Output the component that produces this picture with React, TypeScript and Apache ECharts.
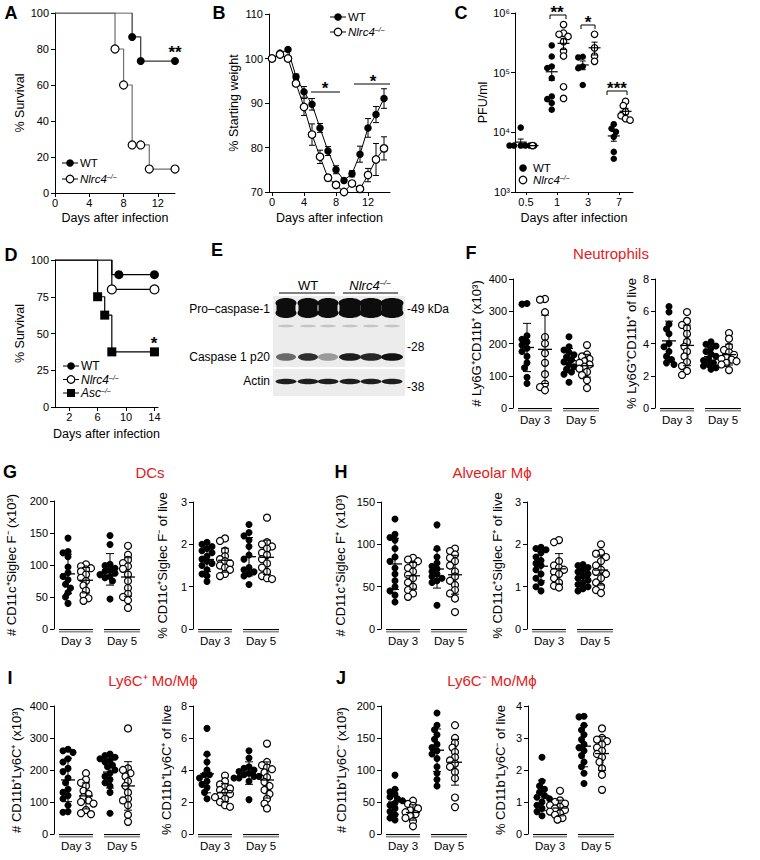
import React, { useEffect, useRef } from "react";
import * as echarts from "echarts";

const FONT = "'Liberation Sans', Arial, Helvetica, sans-serif";
const RED = "#e3201b";

// ===== Panel A: survival =====
const aTicks = [0, 4, 8, 12];
const aWTDays = [0, 9, 10, 14];
const aWTSurv = [100, 86.7, 73.3, 73.3];
const aKODays = [0, 7, 8, 9, 10, 11, 14];
const aKOSurv = [100, 80, 60, 26.7, 26.7, 13.3, 13.3];

// ===== Panel B: weight =====
const bTicks = [0, 4, 8, 12];
const bDays = [0, 1, 2, 3, 4, 5, 6, 7, 8, 9, 10, 11, 12, 13, 14];
const bWT = [100, 101.2, 102.0, 95.9, 92.5, 89.7, 84.4, 79.2, 75.0, 72.6, 74.1, 78.5, 84.4, 87.4, 91.0];
const bWTSem = [0, 0.3, 0.3, 0.6, 1.2, 1.3, 1.0, 1.0, 0.9, 0.5, 0.7, 1.8, 2.1, 1.8, 2.2];
const bKO = [100, 100.9, 100, 94.4, 89.1, 82.9, 77.9, 73.2, 71.6, 70.0, 71.9, 70.7, 73.8, 77.3, 79.8];
const bKOSem = [0, 0.3, 0.3, 0.5, 1.9, 2.4, 1.5, 0.7, 0.6, 0.3, 0.6, 0.5, 1.5, 3.6, 2.6];

// ===== Panel C: PFU =====
const cDayLabels = ["0.5", "1", "3", "7"];
const cTickLabels = ["10³", "10⁴", "10⁵", "10⁶"];
const cWT = [
  [6000, 6000, 6000, 6000, 6000, 6000, 12000],
  [286000, 187000, 127000, 120000, 81000, 40000, 36000, 31000, 24000],
  [185000, 180000, 127000, 119000, 62000],
  [13700, 11600, 10200, 8400, 4700, 3600],
];
const cKO = [
  [6000],
  [640000, 460000, 440000, 405000, 330000, 230000, 190000, 58000, 37000],
  [440000, 260000, 190000, 155000],
  [33000, 28000, 22000, 19000, 17000, 16000],
];

// ===== Panel D: survival =====
const dTicks = [2, 6, 10, 14];
const dWTDays = [0, 8, 14];
const dWTSurv = [100, 90, 90];
const dWTMarkDays = [9, 14];
const dWTMarkSurv = [90, 90];
const dKODays = [0, 8, 14];
const dKOSurv = [100, 80, 80];
const dAscDays = [0, 6, 7, 8, 14];
const dAscSurv = [100, 75, 62.5, 37.5, 37.5];

// ===== Panel E: blot band shades per lane =====
const blotLanes = ["WT", "WT", "WT", "Nlrc4", "Nlrc4", "Nlrc4"];
const blotP20Shade = ["#6a6a6a", "#2e2e2e", "#9a9a9a", "#1c1c1c", "#262626", "#111111"];

// ===== Panels F–J: groups are [WT day3, Nlrc4 day3, WT day5, Nlrc4 day5] =====
const dayGroups = ["Day 3", "Day 5"];
const neutCount = [
  [324, 322, 224, 213, 205, 195, 185, 175, 160, 140, 125, 95, 76],
  [338, 336, 297, 220, 200, 170, 140, 105, 75, 65, 55],
  [221, 190, 180, 172, 165, 158, 150, 143, 135, 128, 120, 112, 105, 80],
  [195, 166, 160, 152, 145, 140, 135, 128, 122, 112, 102, 86, 62],
];
const neutPct = [
  [6.3, 5.95, 5.2, 4.9, 4.6, 4.0, 3.8, 3.5, 3.2, 3.0, 2.8, 2.7],
  [5.95, 5.4, 5.15, 4.95, 4.6, 4.1, 3.8, 3.5, 3.2, 2.85, 2.6, 2.3, 2.05],
  [4.1, 3.95, 3.85, 3.7, 3.5, 3.35, 3.2, 3.05, 2.95, 2.8, 2.7, 2.6, 2.5, 2.4],
  [4.65, 4.3, 3.8, 3.6, 3.45, 3.3, 3.15, 3.05, 3.0, 2.9, 2.8, 2.7, 2.35],
];
const dcCount = [
  [142, 121, 119, 113, 97, 88, 82, 77, 70, 64, 57, 50, 40],
  [101, 98, 95, 93, 90, 85, 80, 75, 68, 60, 53, 48, 44],
  [146, 132, 101, 99, 95, 92, 90, 87, 85, 82, 80, 75, 47],
  [130, 116, 108, 103, 98, 94, 85, 75, 64, 55, 50, 45, 33],
];
const dcPct = [
  [2.05, 2.0, 1.95, 1.9, 1.85, 1.8, 1.72, 1.65, 1.6, 1.55, 1.5, 1.4, 1.3, 1.25, 1.12],
  [2.14, 2.08, 1.85, 1.72, 1.65, 1.6, 1.55, 1.5, 1.45, 1.4, 1.3, 1.25],
  [2.47, 2.28, 2.2, 2.1, 1.95, 1.75, 1.65, 1.45, 1.4, 1.35, 1.3, 1.25, 1.05],
  [2.63, 2.05, 2.0, 1.95, 1.9, 1.8, 1.75, 1.65, 1.55, 1.45, 1.35, 1.25, 1.2, 1.18],
];
const amCount = [
  [130, 112, 108, 105, 95, 85, 80, 72, 65, 57, 50, 45, 40, 32],
  [84, 82, 80, 76, 72, 68, 64, 60, 55, 50, 46, 42, 38],
  [123, 95, 85, 78, 74, 71, 68, 65, 62, 60, 57, 55, 28],
  [95, 92, 88, 84, 80, 75, 68, 62, 57, 52, 46, 42, 36, 20],
];
const amPct = [
  [1.93, 1.9, 1.87, 1.8, 1.7, 1.62, 1.55, 1.5, 1.4, 1.3, 1.2, 1.1, 1.0, 0.9],
  [2.1, 2.05, 1.6, 1.5, 1.45, 1.4, 1.35, 1.3, 1.2, 1.1, 1.02, 0.98],
  [1.52, 1.5, 1.45, 1.4, 1.35, 1.3, 1.25, 1.2, 1.15, 1.1, 1.05, 1.0, 0.95, 0.9],
  [2.0, 1.8, 1.78, 1.7, 1.6, 1.5, 1.4, 1.35, 1.3, 1.2, 1.1, 1.0, 0.92, 0.85],
];
const ly6cHiCount = [
  [265, 260, 255, 235, 225, 205, 195, 175, 160, 140, 130, 120, 110, 90, 70, 68],
  [190, 170, 160, 150, 135, 125, 115, 105, 100, 95, 75, 65, 62],
  [250, 245, 240, 235, 230, 225, 215, 210, 200, 190, 180, 170, 160, 150, 130, 65],
  [330, 205, 200, 190, 180, 165, 150, 130, 110, 105, 90, 60, 38],
];
const ly6cHiPct = [
  [6.6, 5.0, 4.5, 4.0, 3.7, 3.7, 3.5, 3.3, 3.1, 2.9, 2.6, 2.2],
  [3.65, 3.3, 3.1, 2.95, 2.85, 2.75, 2.6, 2.5, 2.4, 2.3, 2.2, 2.0, 1.8, 1.7],
  [5.2, 4.75, 4.2, 4.1, 4.0, 3.9, 3.8, 3.7, 3.6, 3.6, 3.5, 3.5, 3.3, 2.15],
  [5.65, 4.5, 4.3, 4.15, 4.05, 3.85, 3.55, 3.25, 3.0, 2.75, 2.5, 2.2, 1.9, 1.6],
];
const ly6cLoCount = [
  [92, 70, 66, 62, 58, 55, 52, 48, 45, 40, 35, 30, 25, 22],
  [52, 47, 44, 40, 37, 34, 31, 28, 25, 20, 12],
  [189, 170, 163, 155, 148, 140, 135, 130, 125, 118, 105, 95, 85, 75],
  [170, 150, 142, 135, 128, 120, 115, 110, 105, 97, 87, 57, 42],
];
const ly6cLoPct = [
  [2.4, 1.65, 1.5, 1.4, 1.3, 1.2, 1.15, 1.1, 1.0, 0.9, 0.8, 0.7, 0.57],
  [1.35, 1.05, 1.0, 0.95, 0.9, 0.85, 0.8, 0.75, 0.7, 0.65, 0.6, 0.5, 0.45],
  [3.68, 3.66, 3.4, 3.25, 3.1, 2.95, 2.8, 2.7, 2.6, 2.45, 2.25, 2.1, 1.9, 1.58],
  [3.3, 3.0, 2.95, 2.9, 2.8, 2.7, 2.6, 2.5, 2.4, 2.25, 2.05, 1.85, 1.38],
];

// ---------- helpers ----------
const FILLED = { color: "#000", opacity: 1 };
const OPEN = { color: "#fff", borderColor: "#000", borderWidth: 1.2, opacity: 1 };

function mean(a: number[]) {
  return a.reduce((s, v) => s + v, 0) / a.length;
}
function sd(a: number[]) {
  if (a.length < 2) return 0;
  const m = mean(a);
  return Math.sqrt(a.reduce((s, v) => s + (v - m) * (v - m), 0) / (a.length - 1));
}

// simple beeswarm layout: returns [x, value] pairs
function swarm(vals: number[], cx: number, yPx: (v: number) => number, unitsPerPx: number, d: number) {
  const order = vals.map((_, i) => i).sort((a, b) => vals[b] - vals[a]);
  const placed: { x: number; y: number; v: number }[] = [];
  const cxp = cx / unitsPerPx;
  const step = d / 2;
  for (const i of order) {
    const y = yPx(vals[i]);
    let x = cxp;
    for (let k = 0; k < 30; k++) {
      const off = k === 0 ? 0 : (k % 2 === 1 ? -1 : 1) * Math.ceil(k / 2) * step;
      x = cxp + off;
      if (placed.every((p) => (p.x - x) * (p.x - x) + (p.y - y) * (p.y - y) >= d * d)) break;
    }
    placed.push({ x, y, v: vals[i] });
  }
  return placed.map((p) => [p.x * unitsPerPx, p.v]);
}

const errRender = (hw: number, cw: number, meanW: number) => (_p: any, api: any) => {
  const x = api.value(0);
  const m = api.value(1);
  const lo = api.value(2);
  const hi = api.value(3);
  const pm = api.coord([x, m]);
  const pl = api.coord([x, lo]);
  const ph = api.coord([x, hi]);
  const st = { stroke: "#000", lineWidth: 1 };
  const ch: any[] = [
    { type: "line", shape: { x1: pl[0], y1: pl[1], x2: ph[0], y2: ph[1] }, style: st },
    { type: "line", shape: { x1: pl[0] - cw, y1: pl[1], x2: pl[0] + cw, y2: pl[1] }, style: st },
    { type: "line", shape: { x1: ph[0] - cw, y1: ph[1], x2: ph[0] + cw, y2: ph[1] }, style: st },
  ];
  if (hw > 0)
    ch.push({ type: "line", shape: { x1: pm[0] - hw, y1: pm[1], x2: pm[0] + hw, y2: pm[1] }, style: { stroke: "#000", lineWidth: meanW } });
  return { type: "group", children: ch };
};

const underlineRender = (_p: any, api: any) => {
  const a = api.coord([api.value(0), 0]);
  const b = api.coord([api.value(2), 0]);
  return {
    type: "group",
    children: [
      { type: "line", shape: { x1: a[0], y1: a[1] + 0.5, x2: b[0], y2: b[1] + 0.5 }, style: { stroke: "#000", lineWidth: 1 } },
      { type: "line", shape: { x1: a[0], y1: a[1] + 2.6, x2: b[0], y2: b[1] + 2.6 }, style: { stroke: "#8c8c8c", lineWidth: 1.6 } },
    ],
  };
};

function txt(x: number, y: number, text: string, opts: any = {}) {
  return {
    type: "text",
    x,
    y,
    silent: true,
    style: { text, fontFamily: FONT, fontSize: 12, fill: "#000", align: "left", verticalAlign: "middle", ...opts },
  };
}

function genoRich(fs: number) {
  return {
    i: { fontStyle: "italic", fontSize: fs, fontFamily: FONT, fill: "#000", lineHeight: fs },
    s: { fontStyle: "italic", fontSize: Math.round(fs * 0.62), fontFamily: FONT, fill: "#000", verticalAlign: "top", lineHeight: Math.round(fs * 0.62) },
  };
}

function legendRow(x: number, y: number, kind: string, label: string, italic: boolean, fs: number, withLine: boolean) {
  const out: any[] = [];
  if (withLine) out.push({ type: "line", silent: true, shape: { x1: x - 8, y1: y, x2: x + 8, y2: y }, style: { stroke: "#000", lineWidth: 1 } });
  if (kind === "square") out.push({ type: "rect", silent: true, shape: { x: x - 4, y: y - 4, width: 8, height: 8 }, style: { fill: "#000" } });
  else
    out.push({
      type: "circle",
      silent: true,
      shape: { cx: x, cy: y, r: 3.8 },
      style: kind === "filled" ? { fill: "#000" } : { fill: "#fff", stroke: "#000", lineWidth: 1.2 },
    });
  if (italic) out.push(txt(x + 10, y, `{i|${label}}{s|–/–}`, { rich: genoRich(fs) }));
  else out.push(txt(x + 10, y, label, { fontSize: fs }));
  return out;
}

const scatterLayout = [
  { data: neutCount, name: "# Ly6G⁺CD11b⁺ (x10³)", left: 513, top: 279, height: 129, max: 400, interval: 100, gap: 30 },
  { data: neutPct, name: "% Ly6G⁺CD11b⁺ of live", left: 655, top: 279, height: 129, max: 8, interval: 2, gap: 17 },
  { data: dcCount, name: "# CD11c⁺Siglec F⁻ (x10³)", left: 54, top: 501, height: 128, max: 200, interval: 50, gap: 36 },
  { data: dcPct, name: "% CD11c⁺Siglec F⁻ of live", left: 193, top: 502, height: 127, max: 3, interval: 1, gap: 24 },
  { data: amCount, name: "# CD11c⁺Siglec F⁺ (x10³)", left: 381, top: 502, height: 127, max: 150, interval: 50, gap: 34 },
  { data: amPct, name: "% CD11c⁺Siglec F⁺ of live", left: 527, top: 502, height: 127, max: 3, interval: 1, gap: 23 },
  { data: ly6cHiCount, name: "# CD11b⁺Ly6C⁺ (x10³)", left: 54, top: 706, height: 128, max: 400, interval: 100, gap: 31 },
  { data: ly6cHiPct, name: "% CD11b⁺Ly6C⁺ of live", left: 193, top: 706, height: 128, max: 8, interval: 2, gap: 20 },
  { data: ly6cLoCount, name: "# CD11b⁺Ly6C⁻ (x10³)", left: 381, top: 706, height: 128, max: 200, interval: 50, gap: 33 },
  { data: ly6cLoPct, name: "% CD11b⁺Ly6C⁻ of live", left: 528, top: 706, height: 128, max: 4, interval: 1, gap: 21 },
];
const GROUP_X = [14, 32, 56, 74];
const UNDERLINES = [[5, 0, 39], [50, 0, 86]];
const DAY_LABEL_X = [22, 68];

function buildOption() {
  const grid: any[] = [];
  const xAxis: any[] = [];
  const yAxis: any[] = [];
  const series: any[] = [];
  const graphic: any[] = [];

  const axisLine = { show: true, onZero: false, lineStyle: { color: "#000", width: 1 } };
  const tick = { show: true, length: 4, lineStyle: { color: "#000", width: 1 } };
  const lbl = { color: "#000", fontSize: 11, fontFamily: FONT };
  const nameStyle = { color: "#000", fontSize: 12.5, fontFamily: FONT };
  const add = (g: any, x: any, y: any) => {
    const i = grid.length;
    grid.push({ ...g, containLabel: false });
    xAxis.push({ gridIndex: i, splitLine: { show: false }, ...x });
    yAxis.push({ gridIndex: i, splitLine: { show: false }, ...y });
    return i;
  };
  const pts = (xs: number[], ys: number[]) => xs.map((d, i) => [d, ys[i]]);

  // ---------- A ----------
  const gA = add(
    { left: 55, top: 13, width: 120, height: 180 },
    {
      type: "value", min: 0, max: 14, axisLine,
      axisTick: { ...tick, customValues: aTicks },
      axisLabel: { ...lbl, margin: 4, customValues: aTicks },
      name: "Days after infection", nameLocation: "middle", nameGap: 18, nameTextStyle: nameStyle,
    },
    {
      type: "value", min: 0, max: 100, interval: 20, axisLine, axisTick: tick,
      axisLabel: { ...lbl, margin: 6 },
      name: "% Survival", nameLocation: "middle", nameGap: 26, nameTextStyle: nameStyle,
    }
  );
  series.push({ type: "line", xAxisIndex: gA, yAxisIndex: gA, step: "end", data: pts(aKODays, aKOSurv), showSymbol: false, lineStyle: { color: "#6e6e6e", width: 1.2 }, z: 2, silent: true });
  series.push({ type: "line", xAxisIndex: gA, yAxisIndex: gA, step: "end", data: pts(aWTDays, aWTSurv), showSymbol: false, lineStyle: { color: "#333", width: 1.2 }, z: 2, silent: true });
  series.push({ type: "scatter", xAxisIndex: gA, yAxisIndex: gA, data: pts(aKODays, aKOSurv).slice(1), symbolSize: 8, itemStyle: OPEN, z: 4, silent: true, clip: false });
  series.push({ type: "scatter", xAxisIndex: gA, yAxisIndex: gA, data: pts(aWTDays, aWTSurv).slice(1), symbolSize: 8, itemStyle: FILLED, z: 4, silent: true, clip: false });

  // ---------- B ----------
  const gB = add(
    { left: 269, top: 14, width: 121, height: 178 },
    {
      type: "value", min: -0.375, max: 14.75, axisLine,
      axisTick: { ...tick, customValues: bTicks },
      axisLabel: { ...lbl, margin: 4, customValues: bTicks },
      name: "Days after infection", nameLocation: "middle", nameGap: 19, nameTextStyle: nameStyle,
    },
    {
      type: "value", min: 70, max: 110, interval: 10, axisLine, axisTick: tick,
      axisLabel: { ...lbl, margin: 6 },
      name: "% Starting weight", nameLocation: "middle", nameGap: 29, nameTextStyle: nameStyle,
    }
  );
  series.push({
    type: "custom", xAxisIndex: gB, yAxisIndex: gB, renderItem: errRender(0, 3, 1), silent: true, z: 1,
    data: bDays.map((d, i) => [d, bWT[i], bWT[i] - bWTSem[i], bWT[i] + bWTSem[i]]), encode: { x: 0, y: [1, 2, 3] },
  });
  series.push({
    type: "custom", xAxisIndex: gB, yAxisIndex: gB, renderItem: errRender(0, 3, 1), silent: true, z: 1,
    data: bDays.map((d, i) => [d, bKO[i], bKO[i] - bKOSem[i], bKO[i] + bKOSem[i]]), encode: { x: 0, y: [1, 2, 3] },
  });
  series.push({ type: "line", xAxisIndex: gB, yAxisIndex: gB, data: pts(bDays, bWT), symbol: "circle", symbolSize: 7.5, itemStyle: FILLED, lineStyle: { color: "#000", width: 1 }, z: 3, silent: true, clip: false });
  series.push({ type: "line", xAxisIndex: gB, yAxisIndex: gB, data: pts(bDays, bKO), symbol: "circle", symbolSize: 7.5, itemStyle: OPEN, lineStyle: { color: "#000", width: 1 }, z: 4, silent: true, clip: false });

  // ---------- C ----------
  const cCats = [0, 1, 2, 3];
  const gC = add(
    { left: 515, top: 13, width: 118, height: 179 },
    {
      type: "value", min: -0.355, max: 3.45, axisLine,
      axisTick: { ...tick, length: 3, customValues: cCats },
      axisLabel: { ...lbl, margin: 4, customValues: cCats, formatter: (v: number) => cDayLabels[Math.round(v)] },
      name: "Days after infection", nameLocation: "middle", nameGap: 19, nameTextStyle: nameStyle,
    },
    {
      type: "log", logBase: 10, min: 1000, max: 1000000, axisLine, axisTick: tick,
      axisLabel: { ...lbl, margin: 5, formatter: (v: number) => cTickLabels[Math.round(Math.log10(v)) - 3] },
      name: "PFU/ml", nameLocation: "middle", nameGap: 24, nameTextStyle: nameStyle,
    }
  );
  const cYpx = (v: number) => Math.log10(v) * (179 / 3);
  const cErr: number[][] = [];
  [cWT, cKO].forEach((groups, gi) => {
    const pointsAll: number[][] = [];
    groups.forEach((vals, ci) => {
      const cx = ci + (gi === 0 ? -0.17 : 0.21);
      swarm(vals, cx, cYpx, 1 / 31, 4.5).forEach((p) => pointsAll.push(p));
      const m = mean(vals);
      const sem = sd(vals) / Math.sqrt(vals.length);
      cErr.push([cx, m, Math.max(m - sem, 1001), m + sem]);
    });
    series.push({ type: "scatter", xAxisIndex: gC, yAxisIndex: gC, data: pointsAll, symbolSize: 6.5, itemStyle: gi === 0 ? FILLED : OPEN, z: 3, silent: true, clip: false });
  });
  series.push({ type: "custom", xAxisIndex: gC, yAxisIndex: gC, renderItem: errRender(6, 3, 1.2), silent: true, z: 5, data: cErr, encode: { x: 0, y: [1, 2, 3] } });

  // ---------- D ----------
  const gD = add(
    { left: 55, top: 260, width: 103, height: 147 },
    {
      type: "value", min: 0, max: 14.5, axisLine,
      axisTick: { ...tick, customValues: dTicks },
      axisLabel: { ...lbl, margin: 4, customValues: dTicks },
      name: "Days after infection", nameLocation: "middle", nameGap: 20, nameTextStyle: nameStyle,
    },
    {
      type: "value", min: 0, max: 100, interval: 25, axisLine, axisTick: tick,
      axisLabel: { ...lbl, margin: 6 },
      name: "% Survival", nameLocation: "middle", nameGap: 26, nameTextStyle: nameStyle,
    }
  );
  const km = (xs: number[], ys: number[]) => ({ type: "line", xAxisIndex: gD, yAxisIndex: gD, step: "end", data: pts(xs, ys), showSymbol: false, lineStyle: { color: "#000", width: 1.2 }, z: 2, silent: true });
  series.push(km(dWTDays, dWTSurv), km(dKODays, dKOSurv), km(dAscDays, dAscSurv));
  series.push({ type: "scatter", xAxisIndex: gD, yAxisIndex: gD, data: pts(dWTMarkDays, dWTMarkSurv), symbolSize: 9, itemStyle: FILLED, z: 4, silent: true, clip: false });
  series.push({ type: "scatter", xAxisIndex: gD, yAxisIndex: gD, data: pts(dKODays, dKOSurv).slice(1), symbolSize: 9, itemStyle: OPEN, z: 4, silent: true, clip: false });
  series.push({ type: "scatter", xAxisIndex: gD, yAxisIndex: gD, data: pts(dAscDays, dAscSurv).slice(1), symbol: "rect", symbolSize: 9, itemStyle: FILLED, z: 4, silent: true, clip: false });

  // ---------- F–J scatter panels ----------
  scatterLayout.forEach((p) => {
    const gi = add(
      { left: p.left, top: p.top, width: 88, height: p.height },
      {
        type: "value", min: 0, max: 88,
        axisLine: { show: false, onZero: false }, axisTick: { show: false },
        axisLabel: { ...lbl, fontSize: 11.5, margin: 6, customValues: DAY_LABEL_X, formatter: (v: number) => dayGroups[v < 45 ? 0 : 1] },
      },
      {
        type: "value", min: 0, max: p.max, interval: p.interval, axisLine, axisTick: tick,
        axisLabel: { ...lbl, margin: 6 },
        name: p.name, nameLocation: "middle", nameGap: p.gap, nameTextStyle: { ...nameStyle, fontSize: 13 },
      }
    );
    const yPx = (v: number) => (v * p.height) / p.max;
    const errs: number[][] = [];
    p.data.forEach((vals, g) => {
      series.push({
        type: "scatter", xAxisIndex: gi, yAxisIndex: gi, data: swarm(vals, GROUP_X[g], yPx, 1, 5),
        symbolSize: 7, itemStyle: g % 2 === 0 ? FILLED : OPEN, z: 3, silent: true, clip: false,
      });
      const m = mean(vals);
      const s = sd(vals);
      errs.push([GROUP_X[g], m, Math.max(m - s, 0), m + s]);
    });
    series.push({ type: "custom", xAxisIndex: gi, yAxisIndex: gi, renderItem: errRender(7, 4, 1.3), silent: true, z: 5, data: errs, encode: { x: 0, y: [1, 2, 3] } });
    series.push({ type: "custom", xAxisIndex: gi, yAxisIndex: gi, renderItem: underlineRender, silent: true, z: 1, data: UNDERLINES, encode: { x: [0, 2], y: 1 } });
  });

  // ---------- graphic: letters, titles, legends, annotations ----------
  const letters: [string, number, number][] = [
    ["A", 11, 13], ["B", 219, 13], ["C", 461, 13], ["D", 11, 255], ["E", 217, 250],
    ["F", 471, 253], ["G", 10, 472], ["H", 341, 472], ["I", 10, 678], ["J", 341, 678],
  ];
  letters.forEach(([t, x, y]) => graphic.push(txt(x, y, t, { fontSize: 18, fontWeight: "bold", align: "center" })));

  const titles: [string, number, number][] = [
    ["Neutrophils", 611, 253], ["DCs", 150, 472], ["Alveolar Mϕ", 492, 472],
    ["Ly6C⁺ Mo/Mϕ", 153, 680], ["Ly6C⁻ Mo/Mϕ", 492, 680],
  ];
  titles.forEach(([t, x, y]) => graphic.push(txt(x, y, t, { fontSize: 15, fill: RED, align: "center" })));

  // legends
  graphic.push(...legendRow(70, 163, "filled", "WT", false, 11.5, true));
  graphic.push(...legendRow(70, 179, "open", "Nlrc4", true, 11.5, true));
  graphic.push(...legendRow(338, 17, "filled", "WT", false, 11.5, true));
  graphic.push(...legendRow(338, 32, "open", "Nlrc4", true, 11.5, true));
  graphic.push(...legendRow(523, 168, "filled", "WT", false, 11.5, false));
  graphic.push(...legendRow(523, 180, "open", "Nlrc4", true, 11.5, false));
  graphic.push(...legendRow(71, 366, "filled", "WT", false, 12, true));
  graphic.push(...legendRow(71, 379.5, "open", "Nlrc4", true, 12, true));
  graphic.push(...legendRow(71, 393, "square", "Asc", true, 12, true));

  // significance
  const star = (x: number, y: number, s: string) => txt(x, y + 4, s, { fontSize: 17, fontWeight: "bold", align: "center" });
  const hline = (x1: number, x2: number, y: number) => ({ type: "line", silent: true, shape: { x1, y1: y, x2, y2: y }, style: { stroke: "#000", lineWidth: 1 } });
  const bracket = (x1: number, x2: number, y: number) => ({ type: "polyline", silent: true, shape: { points: [[x1, y + 4], [x1, y], [x2, y], [x2, y + 4]] }, style: { stroke: "#000", lineWidth: 1, fill: "none" } });
  graphic.push(star(175, 48, "**"));
  graphic.push(star(325, 84, "*"), hline(311, 340, 92));
  graphic.push(star(373, 77, "*"), hline(354, 390, 84));
  graphic.push(star(557, 8, "**"), bracket(550, 566, 15));
  graphic.push(star(588, 18, "*"), bracket(581, 595, 25));
  graphic.push(star(617, 84, "***"), bracket(607, 627, 91));
  graphic.push(star(154, 339, "*"));

  // ---------- E: western blot ----------
  const laneX = [286, 308, 328, 350, 371, 392];
  graphic.push({ type: "rect", silent: true, shape: { x: 273, y: 296, width: 132, height: 71 }, style: { fill: "#ececec" } });
  graphic.push({ type: "rect", silent: true, shape: { x: 273, y: 369, width: 132, height: 27 }, style: { fill: "#ececec" } });
  laneX.forEach((x, i) => {
    const big = blotLanes[i] === "Nlrc4" ? 1 : 0;
    graphic.push({ type: "ellipse", silent: true, shape: { cx: x, cy: 303, rx: 10.5 + big, ry: 5 }, style: { fill: "#0d0d0d" } });
    graphic.push({ type: "ellipse", silent: true, shape: { cx: x, cy: 313, rx: 10.5 + big, ry: 5 }, style: { fill: "#0d0d0d" } });
    graphic.push({ type: "rect", silent: true, shape: { x: x - 9.5 - big, y: 303, width: 19 + 2 * big, height: 10 }, style: { fill: "#0d0d0d" } });
    graphic.push({ type: "ellipse", silent: true, shape: { cx: x, cy: 326, rx: 8, ry: 1.3 }, style: { fill: "#c4c4c4" } });
    graphic.push({ type: "ellipse", silent: true, shape: { cx: x, cy: 357, rx: 10 + big, ry: 3.8 }, style: { fill: blotP20Shade[i] } });
    graphic.push({ type: "ellipse", silent: true, shape: { cx: x, cy: 381.5, rx: 10.5, ry: 2.8 }, style: { fill: "#1e1e1e" } });
  });
  graphic.push(txt(308, 285, "WT", { fontSize: 13, align: "center" }), hline(279, 335, 293));
  graphic.push(txt(370, 285, "{i|Nlrc4}{s|–/–}", { align: "center", rich: genoRich(13) }), hline(343, 398, 293));
  graphic.push(txt(270, 309, "Pro–caspase-1", { align: "right" }));
  graphic.push(txt(270, 357, "Caspase 1 p20", { align: "right" }));
  graphic.push(txt(270, 381, "Actin", { align: "right" }));
  graphic.push(txt(407, 309, "-49 kDa"));
  graphic.push(txt(407, 347, "-28"));
  graphic.push(txt(407, 387, "-38"));

  return {
    animation: false,
    backgroundColor: "#fff",
    textStyle: { fontFamily: FONT },
    grid,
    xAxis,
    yAxis,
    series,
    graphic,
  };
}

export default function App() {
  const ref = useRef<HTMLDivElement>(null);
  useEffect(() => {
    if (!ref.current) return;
    const chart = echarts.init(ref.current, undefined, { renderer: "svg" });
    chart.setOption(buildOption() as any);
    return () => chart.dispose();
  }, []);
  return <div ref={ref} style={{ position: "absolute", left: 0, top: 0, width: 760, height: 860, background: "#fff" }} />;
}
